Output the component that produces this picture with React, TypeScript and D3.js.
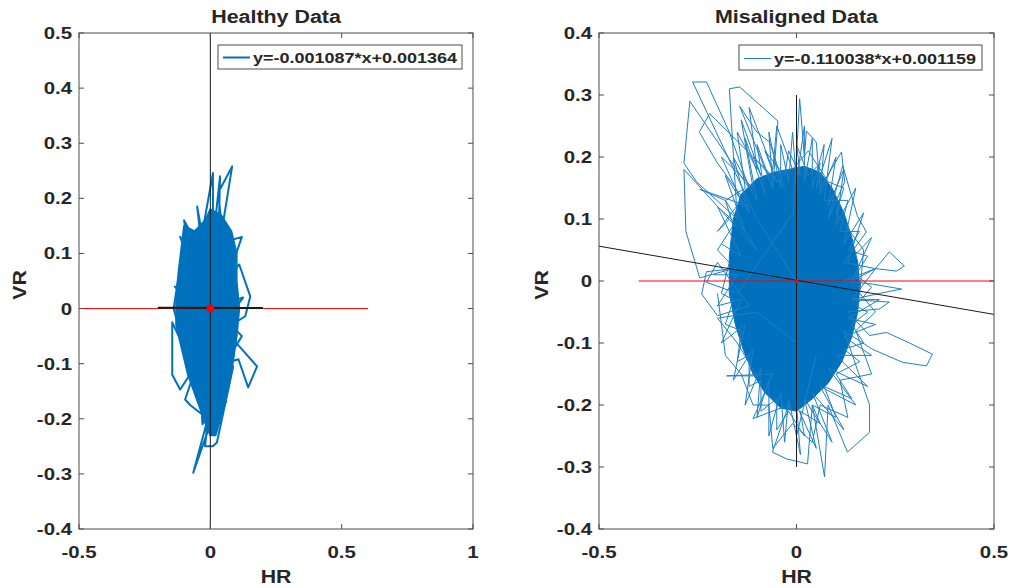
import React from 'react';
import * as d3 from 'd3';

type Pt = [number, number];

// ---------- Data ----------
const LEFT_TITLE = 'Healthy Data';
const RIGHT_TITLE = 'Misaligned Data';
const X_LABEL = 'HR';
const Y_LABEL = 'VR';

const LEFT_X_TICKS = [-0.5, 0, 0.5, 1];
const LEFT_Y_TICKS = [-0.4, -0.3, -0.2, -0.1, 0, 0.1, 0.2, 0.3, 0.4, 0.5];
const LEFT_X_TICK_LABELS = ['-0.5', '0', '0.5', '1'];
const LEFT_Y_TICK_LABELS = ['-0.4', '-0.3', '-0.2', '-0.1', '0', '0.1', '0.2', '0.3', '0.4', '0.5'];
const RIGHT_X_TICKS = [-0.5, 0, 0.5];
const RIGHT_Y_TICKS = [-0.4, -0.3, -0.2, -0.1, 0, 0.1, 0.2, 0.3, 0.4];
const RIGHT_X_TICK_LABELS = ['-0.5', '0', '0.5'];
const RIGHT_Y_TICK_LABELS = ['-0.4', '-0.3', '-0.2', '-0.1', '0', '0.1', '0.2', '0.3', '0.4'];

const LEFT_FIT_SLOPE = -0.001087;
const LEFT_FIT_INTERCEPT = 0.001364;
const LEFT_FIT_RANGE: Pt = [-0.2, 0.2];
const RIGHT_FIT_SLOPE = -0.110038;
const RIGHT_FIT_INTERCEPT = 0.001159;
const RIGHT_FIT_RANGE: Pt = [-0.5, 0.5];

const LEFT_LEGEND = 'y=-0.001087*x+0.001364';
const RIGHT_LEGEND = 'y=-0.110038*x+0.001159';

const LEFT_ZERO_LINE: Pt = [-0.5, 0.6];
const RIGHT_ZERO_LINE: Pt = [-0.4, 0.5];
const LEFT_VLINE: Pt = [-0.4, 0.5];
const RIGHT_VLINE: Pt = [-0.3, 0.3];

// dense core of the healthy trajectory
const LEFT_CORE: Pt[] = [
  [-0.1, 0.15], [-0.06, 0.14], [-0.02, 0.16], [0.0, 0.18], [0.04, 0.17], [0.08, 0.14],
  [0.1, 0.1], [0.1, 0.05], [0.11, 0.0], [0.1, -0.05], [0.085, -0.1], [0.07, -0.14],
  [0.045, -0.19], [0.02, -0.23], [0.0, -0.23], [-0.025, -0.2], [-0.055, -0.16],
  [-0.085, -0.12], [-0.11, -0.07], [-0.13, -0.03], [-0.13, 0.02], [-0.12, 0.07], [-0.11, 0.11],
];

// excursions of the healthy trajectory
const LEFT_PATH: Pt[] = [
  [0.0, 0.05], [-0.05, 0.185], [-0.03, 0.1], [-0.1, 0.16], [-0.08, 0.1], [-0.115, 0.13],
  [-0.06, 0.06], [0.01, 0.246], [0.01, 0.12], [0.037, 0.24], [0.03, 0.1], [0.083, 0.258],
  [0.03, 0.21], [0.05, 0.12], [0.12, 0.13], [0.07, 0.06], [0.11, 0.08], [0.152, 0.022],
  [0.133, -0.014], [0.08, -0.03], [0.087, -0.056], [0.178, -0.105], [0.144, -0.143],
  [0.107, -0.092], [0.05, -0.1], [0.087, -0.105], [0.025, -0.243], [0.01, -0.25],
  [-0.02, -0.25], [0.0, -0.15], [-0.008, -0.22], [-0.065, -0.298], [-0.01, -0.2],
  [-0.077, -0.175], [-0.096, -0.165], [-0.05, -0.1], [-0.115, -0.147], [-0.145, -0.12],
  [-0.145, -0.025], [-0.096, -0.075], [-0.14, 0.0], [-0.12, 0.06], [-0.08, 0.0],
  [-0.135, 0.04], [0.0, 0.0], [0.125, 0.02], [0.06, -0.02], [0.12, -0.05], [0.03, -0.12],
  [0.06, -0.17], [-0.04, -0.12], [-0.03, -0.21], [0.03, -0.16], [0.0, 0.1],
];

// dense core of the misaligned trajectory
const RIGHT_CORE: Pt[] = [
  [-0.16, 0.1], [-0.14, 0.14], [-0.1, 0.165], [-0.06, 0.175], [-0.02, 0.18], [0.02, 0.185],
  [0.06, 0.175], [0.09, 0.15], [0.12, 0.11], [0.14, 0.07], [0.155, 0.03], [0.16, -0.01],
  [0.155, -0.05], [0.14, -0.09], [0.115, -0.13], [0.08, -0.165], [0.04, -0.19], [0.0, -0.21],
  [-0.04, -0.205], [-0.08, -0.18], [-0.11, -0.15], [-0.135, -0.11], [-0.155, -0.07],
  [-0.17, -0.02], [-0.17, 0.04],
];

// fuzzy fringe around the core (two passes)
const RIGHT_HALO: Pt[] = [
  [-0.19, 0.06], [-0.14, 0.04], [-0.2, 0.12], [-0.13, 0.08], [-0.18, 0.17], [-0.12, 0.11],
  [-0.16, 0.2], [-0.1, 0.13], [-0.13, 0.23], [-0.08, 0.14], [-0.1, 0.22], [-0.06, 0.15],
  [-0.07, 0.24], [-0.04, 0.15], [-0.04, 0.22], [-0.02, 0.16], [-0.01, 0.24], [0.0, 0.16],
  [0.02, 0.25], [0.02, 0.16], [0.04, 0.23], [0.04, 0.15], [0.07, 0.22], [0.06, 0.14],
  [0.1, 0.2], [0.08, 0.12], [0.12, 0.18], [0.1, 0.09], [0.15, 0.15], [0.12, 0.06],
  [0.17, 0.11], [0.13, 0.03], [0.19, 0.07], [0.14, 0.0], [0.2, 0.02], [0.14, -0.03],
  [0.21, -0.03], [0.13, -0.06], [0.2, -0.07], [0.12, -0.09], [0.19, -0.12], [0.1, -0.12],
  [0.18, -0.17], [0.08, -0.14], [0.15, -0.2], [0.06, -0.17], [0.12, -0.24], [0.04, -0.18],
  [0.09, -0.26], [0.02, -0.19], [0.05, -0.27], [0.0, -0.2], [0.01, -0.28], [-0.02, -0.19],
  [-0.03, -0.26], [-0.04, -0.18], [-0.07, -0.25], [-0.07, -0.16], [-0.1, -0.22], [-0.09, -0.14],
  [-0.13, -0.2], [-0.11, -0.11], [-0.16, -0.16], [-0.13, -0.07], [-0.19, -0.1], [-0.14, -0.03],
  [-0.2, -0.04], [-0.15, 0.01], [-0.21, 0.01],
];

const RIGHT_HALO2: Pt[] = [
  [-0.17, 0.1], [-0.2, 0.08], [-0.14, 0.13], [-0.19, 0.2], [-0.11, 0.15], [-0.14, 0.26],
  [-0.09, 0.17], [-0.11, 0.2], [-0.05, 0.16], [-0.08, 0.21], [-0.03, 0.17], [-0.02, 0.21],
  [0.01, 0.17], [0.0, 0.22], [0.03, 0.17], [0.06, 0.19], [0.05, 0.15], [0.09, 0.23],
  [0.07, 0.13], [0.13, 0.13], [0.11, 0.08], [0.16, 0.08], [0.13, 0.05], [0.18, 0.04],
  [0.15, 0.01], [0.19, -0.01], [0.15, -0.04], [0.18, -0.05], [0.14, -0.07], [0.17, -0.1],
  [0.12, -0.11], [0.16, -0.13], [0.1, -0.15], [0.14, -0.19], [0.07, -0.17], [0.1, -0.22],
  [0.04, -0.2], [0.06, -0.23], [0.01, -0.21], [0.02, -0.25], [-0.02, -0.21], [-0.05, -0.24],
  [-0.05, -0.19], [-0.09, -0.21], [-0.09, -0.16], [-0.12, -0.17], [-0.12, -0.12], [-0.15, -0.13],
  [-0.14, -0.08], [-0.18, -0.07], [-0.16, -0.03], [-0.19, -0.02], [-0.17, 0.03], [-0.2, 0.05],
  [-0.16, 0.09], [-0.18, 0.13], [-0.13, 0.15], [-0.15, 0.24], [-0.1, 0.18], [-0.12, 0.28],
  [-0.06, 0.18], [-0.05, 0.25], [-0.01, 0.18], [0.03, 0.21], [0.08, 0.16], [0.12, 0.15],
  [0.1, 0.11], [0.17, 0.05], [0.16, -0.02], [0.2, -0.05], [0.15, -0.08], [0.19, -0.15],
  [0.11, -0.16], [0.13, -0.22], [0.06, -0.2], [0.04, -0.26], [-0.01, -0.23], [-0.06, -0.27],
  [-0.07, -0.2], [-0.11, -0.2], [-0.14, -0.15], [-0.18, -0.12], [-0.2, -0.02],
];

// big excursions of the misaligned trajectory
const RIGHT_PATH: Pt[] = [
  [0.0, 0.0], [-0.1, 0.1], [-0.263, 0.321], [-0.228, 0.321], [-0.17, 0.24], [-0.12, 0.15],
  [-0.27, 0.29], [-0.285, 0.19], [-0.253, 0.16], [-0.15, 0.1],
  [-0.17, 0.31], [-0.144, 0.313], [-0.047, 0.258], [-0.06, 0.15],
  [-0.144, 0.282], [-0.1, 0.24], [-0.068, 0.224], [-0.03, 0.15],
  [-0.22, 0.27], [-0.246, 0.24], [-0.2, 0.19], [-0.12, 0.12],
  [-0.245, 0.148], [-0.18, 0.13], [-0.1, 0.05],
  [-0.285, 0.18], [-0.28, 0.08], [-0.245, 0.005], [-0.16, 0.02],
  [-0.228, 0.015], [-0.24, -0.021], [-0.2, -0.056], [-0.12, -0.04],
  [-0.2, 0.03], [-0.228, -0.002], [-0.15, -0.02],
  [-0.008, 0.11], [0.008, 0.294], [0.02, 0.2], [0.025, 0.242], [0.05, 0.224], [0.06, 0.15],
  [0.114, 0.208], [0.122, 0.16], [0.08, 0.1], [0.117, 0.186], [0.154, 0.105], [0.177, 0.079],
  [0.12, 0.03], [0.2, 0.02], [0.235, 0.047], [0.273, 0.024], [0.253, 0.016], [0.2, 0.02],
  [0.12, 0.0], [0.192, -0.005], [0.266, -0.013], [0.21, -0.02], [0.14, -0.03],
  [0.235, -0.034], [0.21, -0.045], [0.13, -0.05],
  [0.185, -0.088], [0.228, -0.083], [0.286, -0.1], [0.344, -0.118], [0.329, -0.137],
  [0.268, -0.131], [0.192, -0.11], [0.12, -0.08],
  [0.185, -0.2], [0.185, -0.244], [0.129, -0.276], [0.08, -0.2], [0.071, -0.316],
  [0.04, -0.2], [0.028, -0.295], [-0.025, -0.287], [-0.061, -0.276], [-0.02, -0.2],
  [-0.11, -0.222], [-0.06, -0.15], [-0.177, -0.153], [-0.1, -0.153], [-0.15, -0.1],
  [-0.2, -0.06], [-0.1, -0.05], [0.0, -0.1], [0.0, -0.25], [0.05, -0.12],
];

// ---------- Panel ----------
const BLUE = '#0072BD';
const BLUE_THIN = '#1f80c6';
const AXIS = '#4d4d4d';
const FONT = '"Liberation Sans", Arial, Helvetica, sans-serif';

type PanelProps = {
  left: number; right: number; top: number; bottom: number;
  xDomain: Pt; yDomain: Pt;
  xTicks: number[]; yTicks: number[]; xTickLabels: string[]; yTickLabels: string[];
  title: string; legend: string;
  core: Pt[]; paths: Pt[][]; lineWidth: number; lineColor: string;
  slope: number; intercept: number; fitRange: Pt; fitWidth: number;
  zeroLine: Pt; vLine: Pt; dotR: number;
  legendBox: { x: number; y: number; w: number; h: number };
  yLabelX: number;
};

function SText(props: { x: number; y: number; sx: number; size: number; anchor: string; children: string; rotate?: number }) {
  const { x, y, sx, size, anchor, children, rotate } = props;
  return (
    <text
      transform={`translate(${x},${y})${rotate ? ` rotate(${rotate})` : ''} scale(${sx},1)`}
      textAnchor={anchor}
      fontFamily={FONT}
      fontWeight="bold"
      fontSize={size}
      fill="#262626"
    >
      {children}
    </text>
  );
}

function Panel(p: PanelProps) {
  const x = d3.scaleLinear().domain(p.xDomain).range([p.left, p.right]);
  const y = d3.scaleLinear().domain(p.yDomain).range([p.bottom, p.top]);
  const line = d3.line<Pt>().x((d) => x(d[0])).y((d) => y(d[1]));
  const tickLen = 5;
  const fitPts: Pt[] = [
    [p.fitRange[0], p.slope * p.fitRange[0] + p.intercept],
    [p.fitRange[1], p.slope * p.fitRange[1] + p.intercept],
  ];
  const clipId = `clip-${p.left}`;
  const lb = p.legendBox;
  const ly = Math.round(lb.y + lb.h / 2) + 0.5;
  return (
    <g>
      <defs>
        <clipPath id={clipId}>
          <rect x={p.left} y={p.top} width={p.right - p.left} height={p.bottom - p.top} />
        </clipPath>
      </defs>
      <g clipPath={`url(#${clipId})`}>
        <path d={line(p.core) + 'Z'} fill={BLUE} stroke={BLUE} strokeWidth={p.lineWidth} strokeLinejoin="round" />
        {p.paths.map((pts, i) => (
          <path key={i} d={line(pts) || ''} fill="none" stroke={p.lineColor} strokeWidth={p.lineWidth} strokeLinejoin="round" />
        ))}
        <line x1={x(0)} x2={x(0)} y1={y(p.vLine[0])} y2={y(p.vLine[1])} stroke="#1a1a1a" strokeWidth={1} />
        <line x1={x(p.zeroLine[0])} x2={x(p.zeroLine[1])} y1={y(0)} y2={y(0)} stroke="#ff0000" strokeWidth={1} />
        <path d={line(fitPts) || ''} stroke="#1a1a1a" strokeWidth={p.fitWidth} fill="none" />
        <circle cx={x(0)} cy={y(0)} r={p.dotR} fill="#ff0000" />
      </g>
      <rect x={p.left} y={p.top} width={p.right - p.left} height={p.bottom - p.top} fill="none" stroke={AXIS} strokeWidth={1} />
      {p.xTicks.map((t, i) => (
        <g key={'xt' + i}>
          <line x1={x(t)} x2={x(t)} y1={p.bottom} y2={p.bottom - tickLen} stroke={AXIS} />
          <line x1={x(t)} x2={x(t)} y1={p.top} y2={p.top + tickLen} stroke={AXIS} />
          <SText x={x(t)} y={p.bottom + 29} sx={1.2} size={17} anchor="middle">{p.xTickLabels[i]}</SText>
        </g>
      ))}
      {p.yTicks.map((t, i) => (
        <g key={'yt' + i}>
          <line x1={p.left} x2={p.left + tickLen} y1={y(t)} y2={y(t)} stroke={AXIS} />
          <line x1={p.right} x2={p.right - tickLen} y1={y(t)} y2={y(t)} stroke={AXIS} />
          <SText x={p.left - 7} y={y(t) + 6} sx={1.2} size={17} anchor="end">{p.yTickLabels[i]}</SText>
        </g>
      ))}
      <SText x={(p.left + p.right) / 2} y={23} sx={1.19} size={18} anchor="middle">{p.title}</SText>
      <SText x={(p.left + p.right) / 2} y={583} sx={1.12} size={19} anchor="middle">{X_LABEL}</SText>
      <SText x={p.yLabelX} y={(p.top + p.bottom) / 2 + 4} sx={1.12} size={19} anchor="middle" rotate={-90}>{Y_LABEL}</SText>
      <rect x={lb.x} y={lb.y} width={lb.w} height={lb.h} fill="#ffffff" stroke={AXIS} strokeWidth={1} />
      <line x1={lb.x + 5} x2={lb.x + 32} y1={ly} y2={ly} stroke={p.lineColor} strokeWidth={p.lineWidth} />
      <SText x={lb.x + 35} y={lb.y + lb.h / 2 + 6} sx={1.2} size={15} anchor="start">{p.legend}</SText>
    </g>
  );
}

export default function App() {
  return (
    <svg width={1013} height={588} style={{ position: 'absolute', left: 0, top: 0, background: '#fff' }}>
      <rect x={0} y={0} width={1013} height={588} fill="#ffffff" />
      <Panel
        left={79} right={473} top={33} bottom={529}
        xDomain={[-0.5, 1]} yDomain={[-0.4, 0.5]}
        xTicks={LEFT_X_TICKS} yTicks={LEFT_Y_TICKS}
        xTickLabels={LEFT_X_TICK_LABELS} yTickLabels={LEFT_Y_TICK_LABELS}
        title={LEFT_TITLE} legend={LEFT_LEGEND}
        core={LEFT_CORE} paths={[LEFT_PATH]} lineWidth={2} lineColor={BLUE}
        slope={LEFT_FIT_SLOPE} intercept={LEFT_FIT_INTERCEPT} fitRange={LEFT_FIT_RANGE} fitWidth={2}
        zeroLine={LEFT_ZERO_LINE} vLine={LEFT_VLINE} dotR={4}
        legendBox={{ x: 218, y: 45, w: 244, h: 24 }}
        yLabelX={26}
      />
      <Panel
        left={599} right={994} top={33} bottom={529}
        xDomain={[-0.5, 0.5]} yDomain={[-0.4, 0.4]}
        xTicks={RIGHT_X_TICKS} yTicks={RIGHT_Y_TICKS}
        xTickLabels={RIGHT_X_TICK_LABELS} yTickLabels={RIGHT_Y_TICK_LABELS}
        title={RIGHT_TITLE} legend={RIGHT_LEGEND}
        core={RIGHT_CORE} paths={[RIGHT_HALO, RIGHT_HALO2, RIGHT_PATH]} lineWidth={1} lineColor={BLUE_THIN}
        slope={RIGHT_FIT_SLOPE} intercept={RIGHT_FIT_INTERCEPT} fitRange={RIGHT_FIT_RANGE} fitWidth={1}
        zeroLine={RIGHT_ZERO_LINE} vLine={RIGHT_VLINE} dotR={2}
        legendBox={{ x: 739, y: 45, w: 243, h: 25 }}
        yLabelX={548}
      />
    </svg>
  );
}
